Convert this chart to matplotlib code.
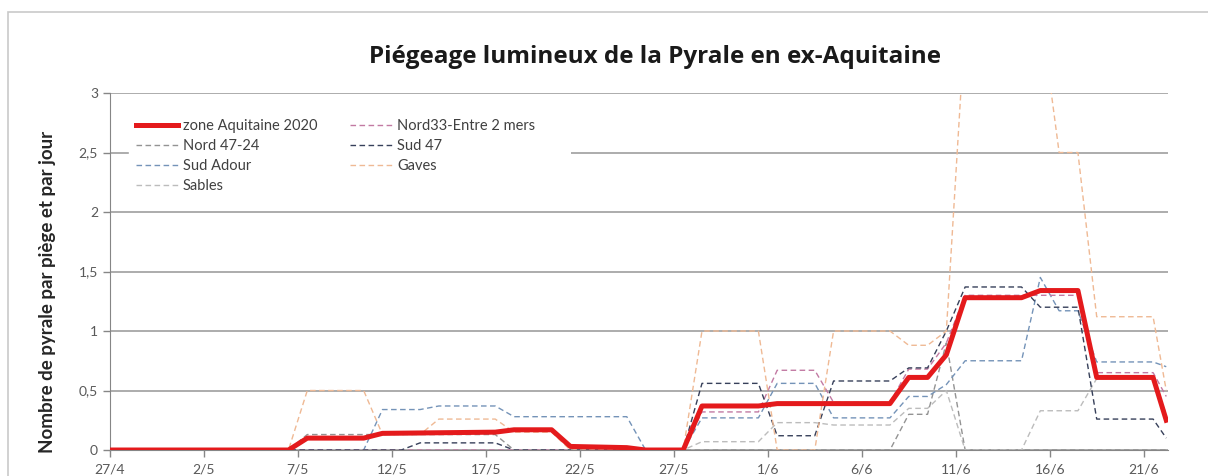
import matplotlib
matplotlib.use("Agg")
import matplotlib.pyplot as plt
from matplotlib.patches import Rectangle

# days counted from 27/4 (2020), values = pyrales / piège / jour
tick_days = [0, 5, 10, 15, 20, 25, 30, 35, 40, 45, 50, 55]
tick_labels = ["27/4", "2/5", "7/5", "12/5", "17/5", "22/5", "27/5",
               "1/6", "6/6", "11/6", "16/6", "21/6"]

aquitaine_days = [0, 9.5, 10.5, 13.5, 14.5, 20.5, 21.5, 23.5, 24.5, 27.5, 28.5, 30.5, 31.5,
                  34.5, 35.5, 41.5, 42.5, 43.5, 44.5, 45.5, 48.5, 49.5, 51.5, 52.5, 55.5, 56.2]
aquitaine_vals = [0, 0, 0.10, 0.10, 0.14, 0.15, 0.17, 0.17, 0.03, 0.02, 0, 0, 0.37,
                  0.37, 0.39, 0.39, 0.61, 0.61, 0.80, 1.28, 1.28, 1.34, 1.34, 0.61, 0.61, 0.25]

nord47_days = [0, 9.5, 10.5, 20.5, 21.5, 41.5, 42.5, 43.5, 44.5, 45.5, 56.2]
nord47_vals = [0, 0, 0.13, 0.13, 0, 0, 0.30, 0.30, 0.90, 0, 0]

sud_adour_days = [0, 13.5, 14.5, 16.5, 17.5, 20.5, 21.5, 27.5, 28.5, 30.5, 31.5, 34.5, 35.5,
                  37.5, 38.5, 41.5, 42.5, 43.5, 44.5, 45.5, 48.5, 49.5, 50.5, 51.5, 52.5, 55.5, 56.2]
sud_adour_vals = [0, 0, 0.34, 0.34, 0.37, 0.37, 0.28, 0.28, 0, 0, 0.27, 0.27, 0.56,
                  0.56, 0.27, 0.27, 0.45, 0.45, 0.55, 0.75, 0.75, 1.45, 1.17, 1.17, 0.74, 0.74, 0.70]

sables_days = [0, 30.5, 31.5, 34.5, 35.5, 37.5, 38.5, 41.5, 42.5, 43.5, 44.5, 45.5, 48.5,
               49.5, 51.5, 52.5, 55.5, 56.2]
sables_vals = [0, 0, 0.07, 0.07, 0.23, 0.23, 0.21, 0.21, 0.35, 0.35, 0.50, 0, 0,
               0.33, 0.33, 0.60, 0.60, 0.30]

nord33_days = [0, 30.5, 31.5, 34.5, 35.5, 37.5, 38.5, 41.5, 42.5, 43.5, 44.5, 45.5, 51.5,
               52.5, 55.5, 56.2]
nord33_vals = [0, 0, 0.32, 0.32, 0.67, 0.67, 0.40, 0.40, 0.68, 0.68, 0.90, 1.30, 1.30,
               0.65, 0.65, 0.45]

sud47_days = [0, 15.5, 16.5, 20.5, 21.5, 30.5, 31.5, 34.5, 35.5, 37.5, 38.5, 41.5, 42.5,
              43.5, 44.5, 45.5, 48.5, 49.5, 51.5, 52.5, 55.5, 56.2]
sud47_vals = [0, 0, 0.06, 0.06, 0, 0, 0.56, 0.56, 0.12, 0.12, 0.58, 0.58, 0.69,
              0.69, 1.00, 1.37, 1.37, 1.20, 1.20, 0.26, 0.26, 0.10]

gaves_days = [0, 9.5, 10.5, 13.5, 14.5, 16.5, 17.5, 20.5, 21.5, 23.5, 24.5, 30.5, 31.5, 34.5,
              35.5, 37.5, 38.5, 41.5, 42.5, 43.5, 44.5, 45.5, 49.5, 50.5, 51.5, 52.5, 55.5, 56.2]
gaves_vals = [0, 0, 0.50, 0.50, 0.13, 0.13, 0.26, 0.26, 0.15, 0.15, 0, 0, 1.00, 1.00,
              0, 0, 1.00, 1.00, 0.88, 0.88, 1.00, 3.60, 3.70, 2.50, 2.50, 1.12, 1.12, 0.50]

plt.rcParams['font.family'] = ['Lato', 'DejaVu Sans']

fig = plt.figure(figsize=(12.08, 4.76), dpi=100)
ax = fig.add_axes([0.091, 0.0546, 0.876, 0.75])

# outer chart frame
fig.patches.append(Rectangle((0.0066, -0.2), 1.2, 0.975 + 0.2, transform=fig.transFigure,
                             facecolor='none', edgecolor='#c9c9c9', lw=1.2))

dash = (0, (4, 2.5))
ax.plot(nord47_days, nord47_vals, color='#939393', lw=1.0, ls=dash, label='Nord 47-24')
ax.plot(sud_adour_days, sud_adour_vals, color='#7493b8', lw=1.0, ls=dash, label='Sud Adour')
ax.plot(sables_days, sables_vals, color='#bcbcbc', lw=1.0, ls=dash, label='Sables')
ax.plot(nord33_days, nord33_vals, color='#c27aa3', lw=1.0, ls=dash, label='Nord33-Entre 2 mers')
ax.plot(sud47_days, sud47_vals, color='#37405a', lw=1.0, ls=dash, label='Sud 47')
ax.plot(gaves_days, gaves_vals, color='#efb994', lw=1.0, ls=dash, label='Gaves')
ax.plot(aquitaine_days, aquitaine_vals, color='#e41a1c', lw=3.6, label='zone Aquitaine 2020',
        zorder=5)

ax.set_xlim(0, 56.3)
ax.set_ylim(0, 3)
ax.set_yticks([0, 0.5, 1, 1.5, 2, 2.5, 3])
ax.set_yticklabels(['0', '0,5', '1', '1,5', '2', '2,5', '3'])
ax.set_xticks(tick_days)
ax.set_xticklabels(tick_labels)
ax.tick_params(axis='both', colors='#868686', labelcolor='#595959', labelsize=10,
               length=5, width=1)
ax.tick_params(axis='x', pad=5)
ax.yaxis.grid(True, color='#a6a6a6', lw=1.3)
ax.set_axisbelow(True)
for s in ['top', 'right']:
    ax.spines[s].set_visible(False)
for s in ['left', 'bottom']:
    ax.spines[s].set_color('#868686')

# white plot-area patch under the legend (legend box reaches a bit further right)
ax.add_patch(Rectangle((0.40, 0.80), 0.036, 0.06, transform=ax.transAxes,
                       facecolor='white', edgecolor='none', zorder=1.5))

h, l = ax.get_legend_handles_labels()
order = [6, 0, 1, 2, 3, 4, 5]
leg = ax.legend([h[i] for i in order], [l[i] for i in order], ncol=2,
                bbox_to_anchor=(0.018, 0.945), loc='upper left',
                fontsize=10.5, handlelength=2.9, handletextpad=0.35, labelspacing=0.4,
                columnspacing=2.2, borderpad=0.45,
                frameon=True, fancybox=False, borderaxespad=0)
leg.get_frame().set_facecolor('white')
leg.get_frame().set_edgecolor('white')
leg.get_frame().set_alpha(1)
for t in leg.get_texts():
    t.set_color('#404040')

fig.text(0.542, 0.88, 'Piégeage lumineux de la Pyrale en ex-Aquitaine', ha='center',
         va='center', fontsize=17.5, fontweight='bold', color='#1a1a1a',
         family=['Open Sans', 'DejaVu Sans'])
fig.text(0.039, 0.387, 'Nombre de pyrale par piège et par jour', ha='center', va='center',
         rotation=90, fontsize=13.5, fontweight='bold', color='#262626')

fig.savefig('out.png', dpi=100)
